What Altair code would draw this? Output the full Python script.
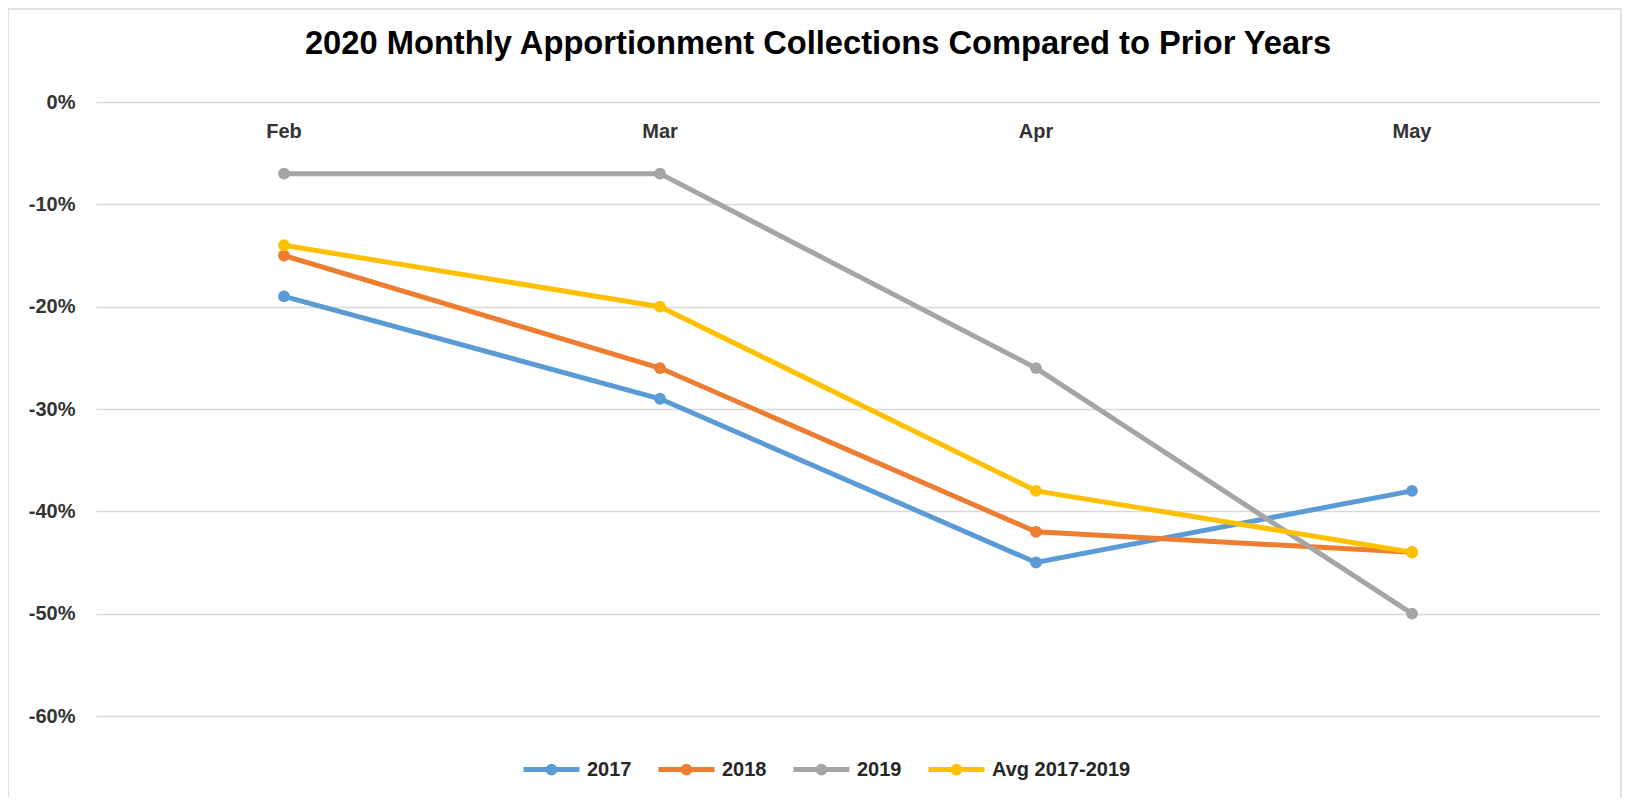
import altair as alt
import pandas as pd

# ---- data ----
months = ["Feb", "Mar", "Apr", "May"]
series_names = ["2017", "2018", "2019", "Avg 2017-2019"]
vals_2017 = [-19, -29, -45, -38]
vals_2018 = [-15, -26, -42, -44]
vals_2019 = [-7, -7, -26, -50]
vals_avg = [-14, -20, -38, -44]
y_ticks = [0, -10, -20, -30, -40, -50, -60]
colors = ["#5B9BD5", "#ED7D31", "#A5A5A5", "#FFC000"]
title_text = "2020 Monthly Apportionment Collections Compared to Prior Years"

rows = []
for name, vals in zip(series_names, [vals_2017, vals_2018, vals_2019, vals_avg]):
    for m, v in zip(months, vals):
        rows.append({"series": name, "month": m, "value": v})
df = pd.DataFrame(rows)
months_df = pd.DataFrame({"month": months})
title_df = pd.DataFrame({"t": [title_text]})

FONT = "Liberation Sans"
LEGEND_PATH = ("M-1,0H1M-0.12,0a0.12,0.12 0 1,0 0.24,0"
               "a0.12,0.12 0 1,0 -0.24,0")

x_enc = alt.X("month:N", sort=months,
              scale=alt.Scale(type="point", padding=0.5), axis=None)
y_enc = alt.Y("value:Q",
              scale=alt.Scale(domain=[-60, 0], nice=False, zero=False),
              axis=alt.Axis(values=y_ticks, title=None, grid=True,
                            gridColor="#D9D9D9", gridWidth=1.5,
                            domain=False, ticks=False, labelPadding=21,
                            labelFont=FONT, labelFontSize=20,
                            labelFontWeight="bold", labelColor="#333333",
                            labelExpr="toString(datum.value) + '%'"))
color_enc = alt.Color("series:N",
                      scale=alt.Scale(domain=series_names, range=colors),
                      legend=alt.Legend(orient="none", legendX=425,
                                        legendY=637, direction="horizontal",
                                        title=None, symbolType=LEGEND_PATH,
                                        symbolSize=3136, symbolStrokeWidth=5,
                                        labelFont=FONT, labelFontSize=20,
                                        labelFontWeight="bold",
                                        labelColor="#262626",
                                        columnPadding=16, labelOffset=5))

base = alt.Chart(df).encode(x=x_enc, y=y_enc, color=color_enc)
lines = base.mark_line(strokeWidth=5)
points = base.mark_circle(size=140, opacity=1)

month_labels = alt.Chart(months_df).mark_text(
    font=FONT, fontSize=20, fontWeight="bold", color="#333333", dy=30
).encode(x=x_enc, y=alt.datum(0), text="month:N")

title_mark = alt.Chart(title_df).mark_text(
    font=FONT, fontSize=32.7, fontWeight="bold", color="#000000",
    align="center", baseline="middle"
).encode(x=alt.value(722), y=alt.value(-58), text="t:N")

border = alt.Chart(pd.DataFrame({"a": [0]})).mark_rect(
    filled=False, stroke="#D9D9D9", strokeWidth=1.5
).encode(x=alt.value(-88), x2=alt.value(1525),
         y=alt.value(-93), y2=alt.value(720))

chart = alt.layer(border, lines, points, month_labels, title_mark).properties(
    width=1504, height=614,
    autosize=alt.AutoSizeParams(type="none"),
    padding={"left": 88, "top": 94, "right": 22, "bottom": 82},
).configure_view(stroke=None)

chart.save("out.html", embed_options={"renderer": "svg", "actions": False})
